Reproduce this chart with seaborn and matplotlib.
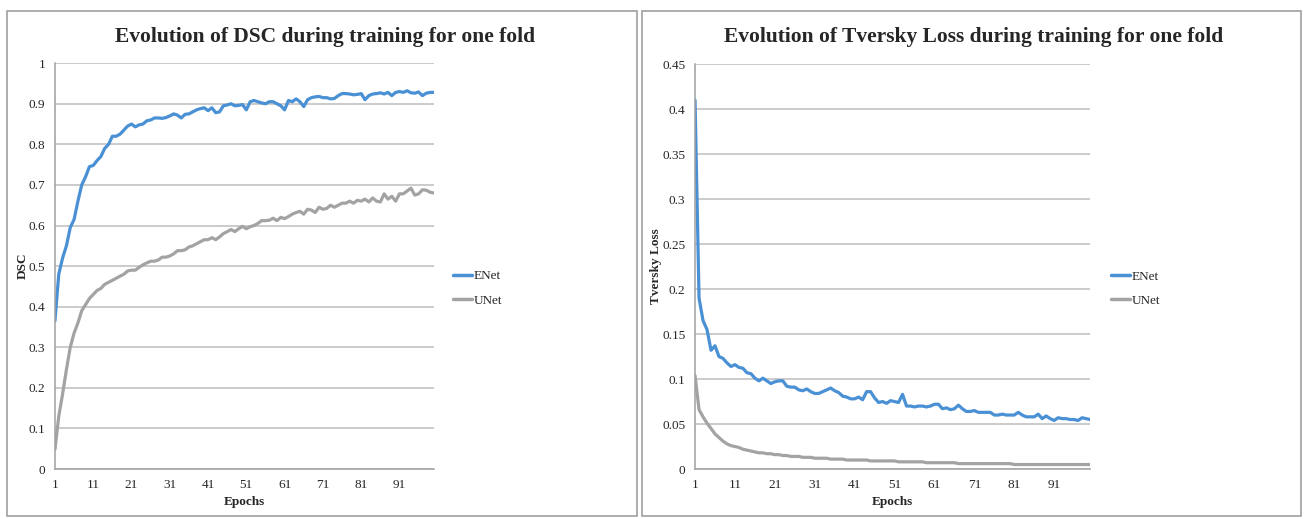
import numpy as np
import pandas as pd
import matplotlib
matplotlib.use("Agg")
import matplotlib.pyplot as plt
from matplotlib.patches import Rectangle
import seaborn as sns

epochs = list(range(1, 101))

dsc_enet = [0.365, 0.48, 0.52, 0.55, 0.595, 0.615, 0.66, 0.70, 0.72, 0.745,
            0.748, 0.76, 0.77, 0.79, 0.80, 0.82, 0.82, 0.825, 0.835, 0.845,
            0.85, 0.843, 0.848, 0.85, 0.858, 0.86, 0.865, 0.865, 0.864, 0.866,
            0.87, 0.875, 0.872, 0.865, 0.874, 0.875, 0.88, 0.885, 0.888, 0.89,
            0.883, 0.89, 0.878, 0.88, 0.895, 0.897, 0.90, 0.895, 0.896, 0.898,
            0.885, 0.905, 0.908, 0.905, 0.902, 0.90, 0.905, 0.905, 0.90, 0.895,
            0.885, 0.908, 0.905, 0.912, 0.905, 0.893, 0.91, 0.915, 0.917, 0.918,
            0.915, 0.915, 0.912, 0.913, 0.92, 0.925, 0.925, 0.924, 0.922, 0.923,
            0.925, 0.91, 0.92, 0.924, 0.925, 0.927, 0.924, 0.928, 0.92, 0.928,
            0.93, 0.928, 0.932, 0.927, 0.926, 0.929, 0.92, 0.926, 0.928, 0.928]

dsc_unet = [0.048, 0.13, 0.185, 0.245, 0.30, 0.335, 0.36, 0.39, 0.405, 0.42,
            0.43, 0.44, 0.445, 0.455, 0.46, 0.465, 0.47, 0.475, 0.48, 0.488,
            0.49, 0.49, 0.497, 0.503, 0.508, 0.512, 0.512, 0.515, 0.522, 0.522,
            0.525, 0.53, 0.538, 0.538, 0.54, 0.547, 0.55, 0.555, 0.56, 0.565,
            0.565, 0.57, 0.565, 0.572, 0.58, 0.585, 0.59, 0.585, 0.592, 0.598,
            0.592, 0.597, 0.60, 0.605, 0.612, 0.612, 0.613, 0.618, 0.612, 0.62,
            0.617, 0.622, 0.628, 0.632, 0.635, 0.628, 0.64, 0.638, 0.632, 0.645,
            0.64, 0.642, 0.65, 0.645, 0.65, 0.655, 0.655, 0.66, 0.655, 0.662,
            0.66, 0.665, 0.658, 0.668, 0.66, 0.658, 0.678, 0.665, 0.672, 0.66,
            0.678, 0.678, 0.685, 0.692, 0.675, 0.678, 0.688, 0.687, 0.682, 0.68]

tv_enet = [0.41, 0.19, 0.165, 0.155, 0.132, 0.137, 0.125, 0.123, 0.118, 0.114,
           0.116, 0.113, 0.112, 0.107, 0.106, 0.101, 0.098, 0.101, 0.098, 0.095,
           0.097, 0.098, 0.098, 0.092, 0.091, 0.091, 0.088, 0.087, 0.089, 0.086,
           0.084, 0.084, 0.086, 0.088, 0.09, 0.087, 0.085, 0.081, 0.08, 0.078,
           0.078, 0.08, 0.077, 0.086, 0.086, 0.079, 0.074, 0.075, 0.073, 0.076,
           0.075, 0.074, 0.083, 0.07, 0.07, 0.069, 0.07, 0.07, 0.069, 0.07,
           0.072, 0.072, 0.067, 0.068, 0.066, 0.067, 0.071, 0.067, 0.064, 0.064,
           0.065, 0.063, 0.063, 0.063, 0.063, 0.06, 0.06, 0.061, 0.06, 0.06,
           0.06, 0.063, 0.06, 0.058, 0.058, 0.058, 0.061, 0.056, 0.059, 0.056,
           0.054, 0.057, 0.056, 0.056, 0.055, 0.055, 0.054, 0.057, 0.056, 0.055]

tv_unet = [0.104, 0.066, 0.058, 0.051, 0.045, 0.039, 0.035, 0.031, 0.028, 0.026,
           0.025, 0.024, 0.022, 0.021, 0.020, 0.019, 0.018, 0.018, 0.017, 0.017,
           0.016, 0.016, 0.015, 0.015, 0.014, 0.014, 0.014, 0.013, 0.013, 0.013,
           0.012, 0.012, 0.012, 0.012, 0.011, 0.011, 0.011, 0.011, 0.010, 0.010,
           0.010, 0.010, 0.010, 0.010, 0.009, 0.009, 0.009, 0.009, 0.009, 0.009,
           0.009, 0.008, 0.008, 0.008, 0.008, 0.008, 0.008, 0.008, 0.007, 0.007,
           0.007, 0.007, 0.007, 0.007, 0.007, 0.007, 0.006, 0.006, 0.006, 0.006,
           0.006, 0.006, 0.006, 0.006, 0.006, 0.006, 0.006, 0.006, 0.006, 0.006,
           0.005, 0.005, 0.005, 0.005, 0.005, 0.005, 0.005, 0.005, 0.005, 0.005,
           0.005, 0.005, 0.005, 0.005, 0.005, 0.005, 0.005, 0.005, 0.005, 0.005]

models = ["ENet", "UNet"]
colors = {"ENet": "#4a90d4", "UNet": "#a3a3a3"}
x_ticks = list(range(1, 100, 10))

sns.set_style("white")
plt.rcParams["font.family"] = ["Liberation Serif", "DejaVu Serif"]

fig = plt.figure(figsize=(13.05, 5.19), dpi=100)

# panel frames
for x0, w in [(0.005, 0.483), (0.492, 0.505)]:
    fig.patches.append(Rectangle((x0, 0.006), w, 0.972, transform=fig.transFigure,
                                 fill=False, edgecolor="#a0a0a0", linewidth=1.2))

ax1 = fig.add_axes([0.0421, 0.0963, 0.2904, 0.782])
ax2 = fig.add_axes([0.5326, 0.0963, 0.3027, 0.780])

df1 = pd.DataFrame({"Epochs": epochs * 2, "value": dsc_enet + dsc_unet,
                    "model": ["ENet"] * 100 + ["UNet"] * 100})
df2 = pd.DataFrame({"Epochs": epochs * 2, "value": tv_enet + tv_unet,
                    "model": ["ENet"] * 100 + ["UNet"] * 100})

panels = [
    (ax1, df1, "Evolution of DSC during training for one fold", "DSC",
     np.arange(0, 1.01, 0.1), 1.0, lambda v: "0" if v == 0 else ("1" if v == 1 else f"{v:.1f}"),
     0.249, 1.018),
    (ax2, df2, "Evolution of Tversky Loss during training for one fold", "Tversky Loss",
     np.arange(0, 0.451, 0.05), 0.45, lambda v: "0" if v == 0 else f"{v:.2f}".rstrip("0"),
     0.746, 1.022),
]

for ax, df, title, ylab, yt, ymax, fmt, tx, lx in panels:
    sns.lineplot(data=df, x="Epochs", y="value", hue="model", hue_order=models,
                 palette=colors, linewidth=2.3, ax=ax)
    ax.set_xlim(1, 100)
    ax.set_ylim(0, ymax)
    ax.set_yticks(yt)
    ax.set_yticklabels([fmt(round(v, 2)) for v in yt])
    ax.set_xticks(x_ticks)
    ax.set_xticklabels([str(t) for t in x_ticks])
    ax.yaxis.grid(True, color="#bdbdbd", linewidth=1.1)
    ax.set_axisbelow(True)
    for s in ["top", "right"]:
        ax.spines[s].set_visible(False)
    for s in ["left", "bottom"]:
        ax.spines[s].set_color("#a0a0a0")
        ax.spines[s].set_linewidth(1.1)
    ax.tick_params(axis="both", which="both", direction="out", length=4, width=1,
                   color="#a0a0a0", labelsize=9.5, pad=3)
    fig.text(tx, 1 - 37 / 519, title, fontsize=15.5, fontweight="bold",
             ha="center", va="center")
    ax.set_xlabel("Epochs", fontsize=9.5, fontweight="bold", labelpad=4)
    ax.set_ylabel(ylab, fontsize=9.5, fontweight="bold", labelpad=0)
    leg = ax.legend(loc="center left", bbox_to_anchor=(lx, 0.445), frameon=False,
                    fontsize=9.5, handlelength=1.5, handletextpad=0.1,
                    labelspacing=0.9)
    for line in leg.get_lines():
        line.set_linewidth(2.5)

fig.savefig("out.png", dpi=100)
